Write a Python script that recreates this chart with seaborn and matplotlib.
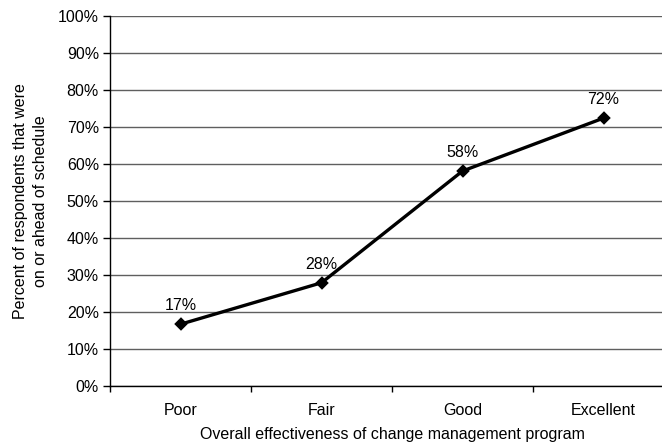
import matplotlib
matplotlib.use("Agg")
import matplotlib.pyplot as plt
import seaborn as sns
import pandas as pd
from matplotlib.ticker import FixedLocator, PercentFormatter

categories = ["Poor", "Fair", "Good", "Excellent"]
values = [0.167, 0.279, 0.581, 0.724]
labels = ["17%", "28%", "58%", "72%"]
y_ticks = [i / 10 for i in range(11)]

sns.set_theme(style="white")
plt.rcParams["font.family"] = ["Liberation Sans", "DejaVu Sans"]

FS = 11.5

df = pd.DataFrame({"cat": categories, "val": values})

fig = plt.figure(figsize=(6.62, 4.47), dpi=100)
ax = fig.add_axes([110 / 662, 61 / 447, 564 / 662, 370 / 447])

sns.pointplot(data=df, x="cat", y="val", color="black", markers="D",
              linestyles="-", ax=ax, markersize=5.5, linewidth=2.4)

for i, (v, lab) in enumerate(zip(values, labels)):
    ax.annotate(lab, (i, v), xytext=(0, 8), textcoords="offset points",
                ha="center", va="bottom", fontsize=FS, color="black")

ax.set_xlim(-0.5, 3.5)
ax.set_ylim(0, 1)
ax.set_yticks(y_ticks)
ax.yaxis.set_major_formatter(PercentFormatter(1.0, decimals=0))
ax.yaxis.grid(True, color="#5f5f5f", linewidth=1.0)
ax.set_axisbelow(True)

ax.xaxis.set_minor_locator(FixedLocator([-0.5, 0.5, 1.5, 2.5]))
ax.tick_params(axis="x", which="major", length=0, pad=12, labelsize=FS, colors="black")
ax.tick_params(axis="x", which="minor", length=4, width=1, color="black", bottom=True)
ax.tick_params(axis="y", which="major", length=5, width=1, color="black", left=True,
               labelsize=FS, labelcolor="black", pad=3)

for s in ["top", "right"]:
    ax.spines[s].set_visible(False)
for s in ["left", "bottom"]:
    ax.spines[s].set_color("black")
    ax.spines[s].set_linewidth(1.0)

ax.set_xlabel("Overall effectiveness of change management program", fontsize=FS,
              color="black", labelpad=7)
ax.set_ylabel("Percent of respondents that were\non or ahead of schedule", fontsize=FS,
              color="black", labelpad=7, linespacing=1.45)

fig.savefig("out.png", dpi=100)
